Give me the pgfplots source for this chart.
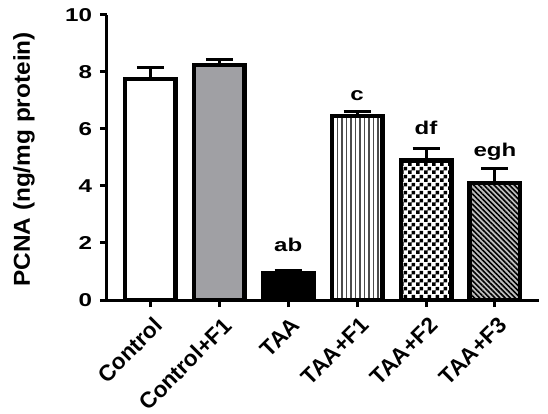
\documentclass[border=0pt]{standalone}
\usepackage{fontspec}
\setmainfont{Liberation Sans}
\newfontfamily\wideA{Liberation Sans}[FakeStretch=1.3]
\newfontfamily\wideB{Liberation Sans}[FakeStretch=1.06]
\usepackage{pgfplots}
\pgfplotsset{compat=1.18}
\usetikzlibrary{patterns,patterns.meta,calc}
\definecolor{bargray}{RGB}{160,160,164}
\pgfdeclarepatternformonly{bigchecker}{\pgfpointorigin}{\pgfqpoint{8pt}{8pt}}{\pgfqpoint{8pt}{8pt}}{%
  \pgfpathrectangle{\pgfpointorigin}{\pgfqpoint{4pt}{4pt}}%
  \pgfpathrectangle{\pgfqpoint{4pt}{4pt}}{\pgfqpoint{4pt}{4pt}}%
  \pgfusepath{fill}}
\begin{document}
\fontsize{20}{24}\selectfont\bfseries
\begin{tikzpicture}
\begin{axis}[
  name=a,
  scale only axis,
  width=432pt, height=285pt,
  ymin=0, ymax=10,
  xmin=-0.63, xmax=5.64,
  ytick={0,2,4,6,8,10},
  xtick={0,1,2,3,4,5},
  xticklabels={Control,Control+F1,TAA,TAA+F1,TAA+F2,TAA+F3},
  axis x line=bottom, axis y line=left,
  axis line style={-, line width=3pt},
  every tick/.style={black, line width=3pt},
  tick align=outside,
  major tick length=7pt,
  /pgf/number format/assume math mode=true,
  yticklabel style={font=\wideA\fontsize{18.6}{22}\selectfont\bfseries, xshift=-1pt},
  xticklabel style={font=\fontsize{22.5}{26}\selectfont\bfseries, rotate=45, anchor=north east, xshift=2pt, yshift=-1pt},
  ylabel={PCNA (ng/mg protein)},
  every axis y label/.style={at={($(axis description cs:0,0.5)+(-83pt,-2pt)$)}, rotate=90, anchor=center, font=\wideB\fontsize{23}{26}\selectfont\bfseries},
  ybar, bar shift=0pt, bar width=50.5pt,
  clip=false,
  error bars/y dir=plus, error bars/y explicit,
  error bars/error bar style={line width=3pt, black},
  error bars/error mark options={rotate=90, mark size=13.5pt, line width=3pt, black},
]
\addplot[draw=black, line width=4.5pt, fill=white] coordinates {(0,7.75) +- (0,0.42)};
\addplot[draw=black, line width=4.5pt, fill=bargray] coordinates {(1,8.25) +- (0,0.2)};
\addplot[draw=black, line width=4.5pt, fill=black] coordinates {(2,0.95) +- (0,0.08)};
\addplot[draw=black, line width=4.5pt, fill=white, postaction={pattern={Lines[angle=90, distance=4.5pt, line width=1.4pt]}, pattern color=black!70}] coordinates {(3,6.45) +- (0,0.16)};
\addplot[draw=black, line width=4.5pt, fill=white, postaction={pattern=bigchecker, pattern color=black}] coordinates {(4,4.9) +- (0,0.4)};
\addplot[draw=black, line width=4.5pt, fill=black!25, postaction={pattern={Lines[angle=-45, distance=3.6pt, line width=1.6pt]}, pattern color=black}] coordinates {(5,4.1) +- (0,0.52)};
\node[anchor=base, font=\wideA\fontsize{18.5}{22}\selectfont\bfseries] at (axis cs:2,1.69) {ab};
\node[anchor=base, font=\wideA\fontsize{18.5}{22}\selectfont\bfseries] at (axis cs:3,6.99) {c};
\node[anchor=base, font=\wideA\fontsize{18.5}{22}\selectfont\bfseries] at (axis cs:4,5.79) {df};
\node[anchor=base, font=\wideA\fontsize{18.5}{22}\selectfont\bfseries] at (axis cs:5,5.05) {egh};
\draw[line width=3pt] (axis cs:-0.63,0) -- ++(-7pt,0);
\end{axis}
\pgfresetboundingbox
\useasboundingbox ($(a.south west)+(-107pt,-114pt)$) rectangle ($(a.north east)+(9pt,15pt)$);
\end{tikzpicture}
\end{document}
